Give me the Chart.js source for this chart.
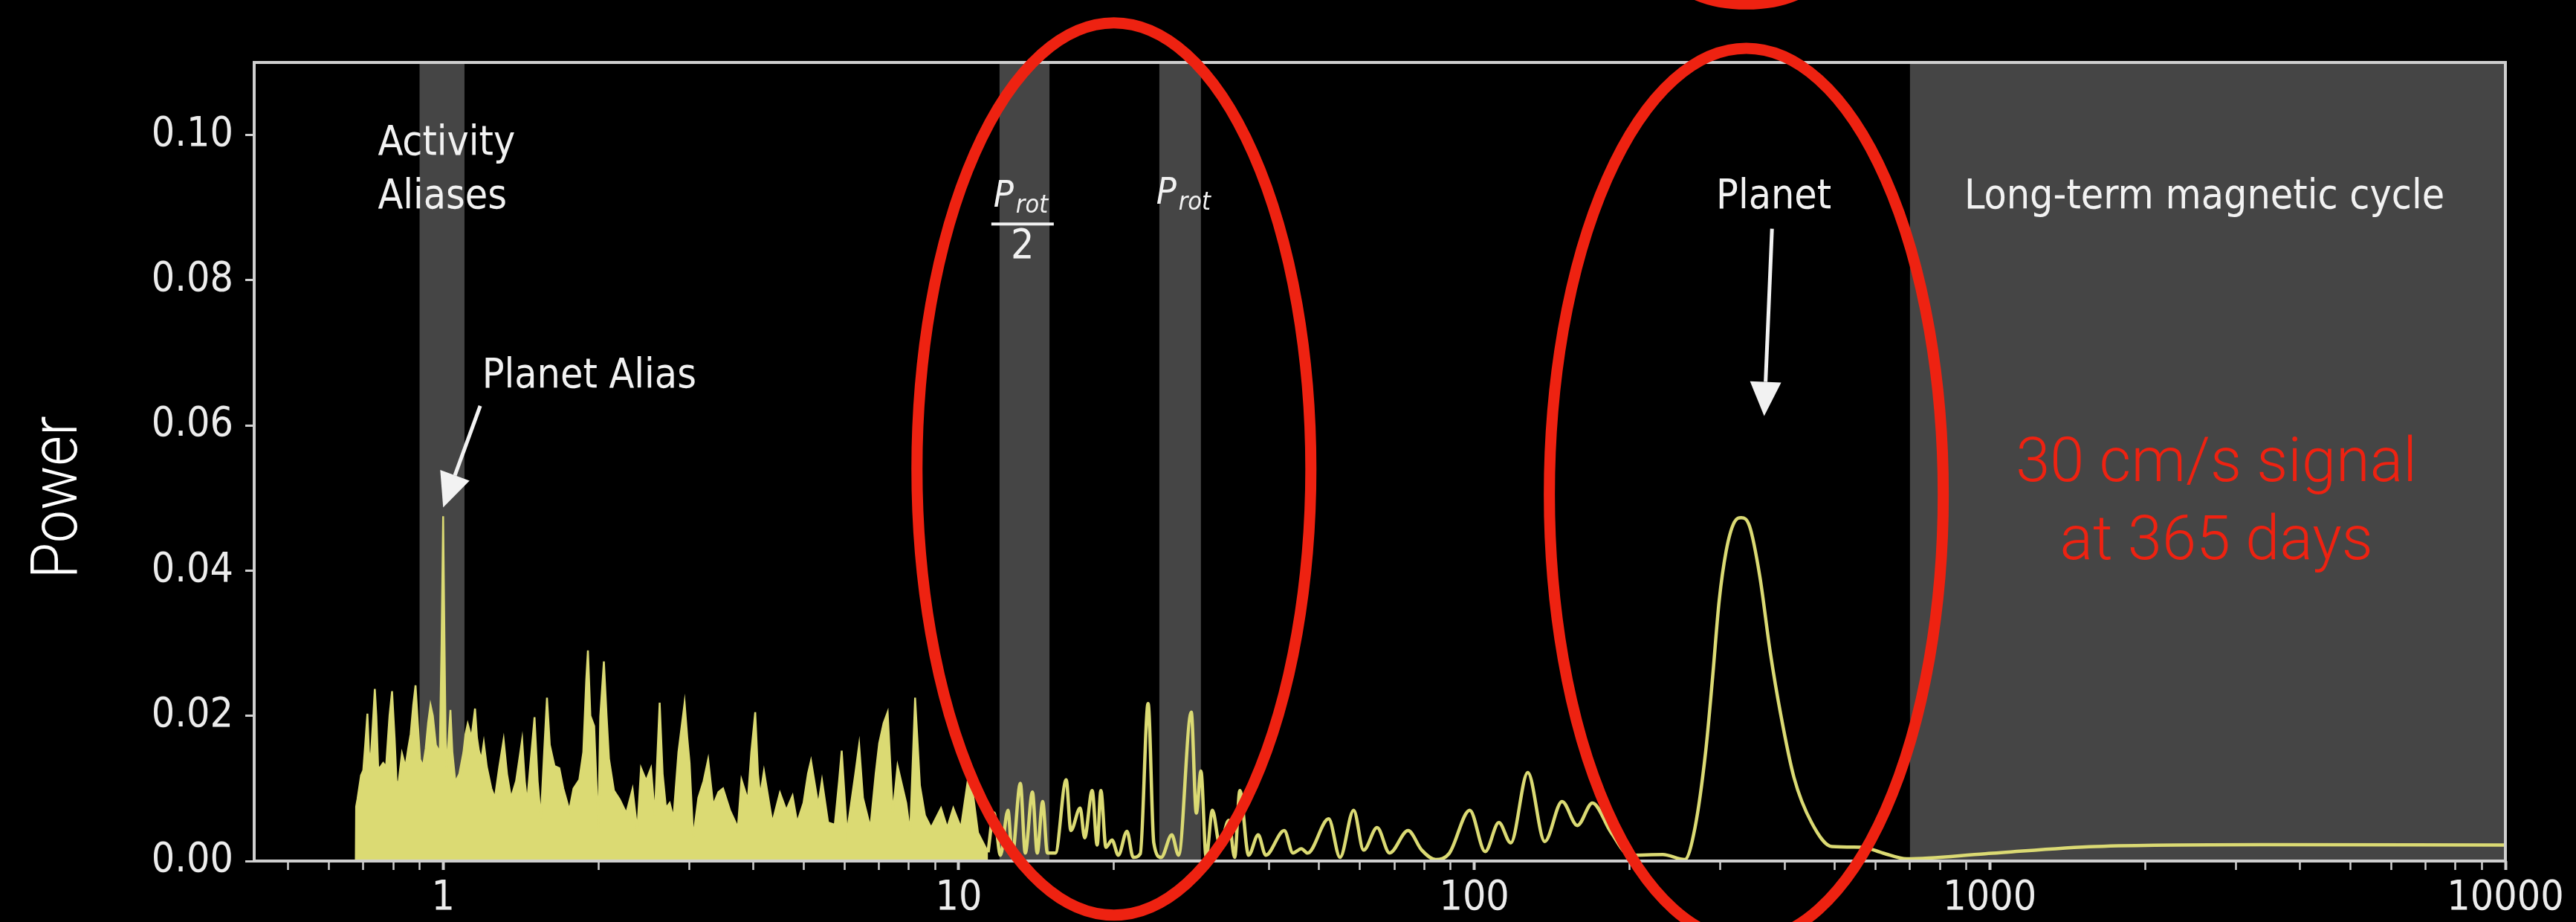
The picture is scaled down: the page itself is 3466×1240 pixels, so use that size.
<!DOCTYPE html>
<html>
<head>
<meta charset="utf-8">
<title>Periodogram</title>
<script src="https://cdn.jsdelivr.net/npm/chart.js@4.4.1/dist/chart.umd.min.js"></script>
<style>
  html, body { margin: 0; padding: 0; background: #000; }
  canvas { display: block; }
</style>
</head>
<body>
<canvas id="periodogram" width="3466" height="1240"></canvas>
<script>
// Short-period forest of peaks (drawn filled, it is too dense to resolve)
const densePeriod = [
  0.677, 0.678, 0.682, 0.693, 0.700, 0.706, 0.713, 0.718, 0.723, 0.730,
  0.737, 0.742, 0.748, 0.753, 0.765, 0.775, 0.787, 0.796, 0.805, 0.812,
  0.819, 0.832, 0.845, 0.856, 0.865, 0.875, 0.884, 0.893, 0.902, 0.914,
  0.925, 0.935, 0.945, 0.955, 0.968, 0.985, 0.993, 1.000, 1.006, 1.011,
  1.016, 1.025, 1.033, 1.042, 1.056, 1.075, 1.095, 1.105, 1.116, 1.135,
  1.153, 1.163, 1.173, 1.186, 1.199, 1.215, 1.240, 1.260, 1.285, 1.310,
  1.330, 1.354, 1.385, 1.423, 1.440, 1.455, 1.475, 1.504, 1.525, 1.547,
  1.570, 1.590, 1.610, 1.644, 1.680, 1.710, 1.757, 1.790, 1.837, 1.870,
  1.895, 1.909, 1.930, 1.963, 1.985, 2.000, 2.017, 2.050, 2.075, 2.097,
  2.144, 2.200, 2.266, 2.330, 2.380, 2.420, 2.476, 2.530, 2.574, 2.630,
  2.665, 2.705, 2.750, 2.797, 2.860, 2.940, 2.975, 3.006, 3.055, 3.126,
  3.200, 3.266, 3.340, 3.420, 3.490, 3.600, 3.730, 3.790, 3.900, 3.960,
  4.030, 4.080, 4.120, 4.190, 4.350, 4.500, 4.630, 4.760, 4.860, 5.000,
  5.100, 5.170, 5.340, 5.430, 5.580, 5.750, 5.860, 5.930, 6.070, 6.300,
  6.410, 6.520, 6.740, 6.900, 7.010, 7.150, 7.280, 7.450, 7.610, 7.910,
  8.050, 8.230, 8.410, 8.600, 8.840, 9.240, 9.500, 9.760, 10.10, 10.50,
  10.90, 11.40
];
const densePower = [
  0.0000, 0.0075, 0.0085, 0.0118, 0.0125, 0.0160, 0.0203, 0.0150, 0.0135, 0.0185,
  0.0237, 0.0200, 0.0130, 0.0128, 0.0135, 0.0130, 0.0200, 0.0234, 0.0170, 0.0110,
  0.0107, 0.0148, 0.0130, 0.0156, 0.0175, 0.0215, 0.0242, 0.0190, 0.0140, 0.0131,
  0.0155, 0.0190, 0.0215, 0.0200, 0.0160, 0.0150, 0.0300, 0.0475, 0.0300, 0.0170,
  0.0128, 0.0170, 0.0208, 0.0150, 0.0109, 0.0120, 0.0150, 0.0175, 0.0189, 0.0170,
  0.0210, 0.0170, 0.0152, 0.0140, 0.0163, 0.0130, 0.0100, 0.0087, 0.0130, 0.0167,
  0.0120, 0.0087, 0.0110, 0.0167, 0.0110, 0.0080, 0.0130, 0.0198, 0.0110, 0.0059,
  0.0150, 0.0225, 0.0160, 0.0131, 0.0128, 0.0100, 0.0070, 0.0100, 0.0112, 0.0150,
  0.0250, 0.0290, 0.0200, 0.0186, 0.0100, 0.0046, 0.0199, 0.0275, 0.0200, 0.0141,
  0.0097, 0.0085, 0.0066, 0.0099, 0.0042, 0.0128, 0.0111, 0.0128, 0.0063, 0.0218,
  0.0120, 0.0073, 0.0080, 0.0059, 0.0150, 0.0218, 0.0170, 0.0135, 0.0032, 0.0087,
  0.0110, 0.0140, 0.0077, 0.0095, 0.0100, 0.0070, 0.0046, 0.0112, 0.0084, 0.0150,
  0.0205, 0.0120, 0.0090, 0.0124, 0.0053, 0.0094, 0.0070, 0.0090, 0.0053, 0.0080,
  0.0120, 0.0138, 0.0077, 0.0111, 0.0053, 0.0050, 0.0110, 0.0152, 0.0039, 0.0120,
  0.0160, 0.0087, 0.0046, 0.0120, 0.0162, 0.0190, 0.0205, 0.0066, 0.0131, 0.0080,
  0.0039, 0.0225, 0.0104, 0.0063, 0.0046, 0.0073, 0.0046, 0.0073, 0.0046, 0.0128,
  0.0039, 0.0012
];

// Longer periods: resolved peaks, the planet and the flat long-term tail
const sparsePeriod = [
  11.40, 11.70, 12.05, 12.46, 12.70, 13.17, 13.46, 13.90, 14.20, 14.55,
  14.86, 15.40, 16.16, 16.50, 17.20, 17.55, 18.15, 18.56, 18.87, 19.30,
  19.83, 20.40, 21.20, 21.80, 22.50, 23.30, 23.90, 24.70, 25.90, 26.70,
  28.25, 28.90, 29.50, 30.20, 31.05, 32.10, 33.40, 34.30, 35.10, 36.50,
  38.10, 39.40, 42.80, 44.50, 46.20, 47.50, 52.20, 54.90, 58.35, 61.00,
  64.80, 68.50, 74.40, 79.10, 84.20, 89.50, 98.00, 105.0, 111.6, 117.7,
  127.0, 137.0, 148.0, 158.5, 169.5, 184.0, 200.5, 232.0, 256.0, 268.0,
  281.0, 290.0, 298.5, 308.0, 319.6, 329.5, 342.0, 358.0, 375.0, 393.0,
  417.0, 451.0, 494.0, 566.0, 620.0, 690.0, 980.0, 1605, 3373, 10000
];
const sparsePower = [
  0.0012, 0.0066, 0.0008, 0.0070, 0.0008, 0.0107, 0.0011, 0.0095, 0.0011, 0.0082,
  0.0011, 0.0011, 0.0112, 0.0042, 0.0073, 0.0032, 0.0097, 0.0022, 0.0097, 0.0019,
  0.0029, 0.0008, 0.0041, 0.0005, 0.0010, 0.0217, 0.0025, 0.0005, 0.0036, 0.0008,
  0.0205, 0.0066, 0.0124, 0.0005, 0.0070, 0.0022, 0.0056, 0.0005, 0.0097, 0.0008,
  0.0036, 0.0008, 0.0042, 0.0011, 0.0017, 0.0011, 0.0058, 0.0005, 0.0070, 0.0015,
  0.0046, 0.0011, 0.0042, 0.0015, 0.0002, 0.0011, 0.0070, 0.0013, 0.0053, 0.0025,
  0.0122, 0.0027, 0.0082, 0.0049, 0.0080, 0.0040, 0.0008, 0.0009, 0.0002, 0.0046,
  0.0150, 0.0254, 0.0358, 0.0427, 0.0467, 0.0473, 0.0461, 0.0392, 0.0288, 0.0202,
  0.0115, 0.0053, 0.0020, 0.0019, 0.0011, 0.0003, 0.0010, 0.0020, 0.00225, 0.0022
];

const periodTicks = [1, 10, 100, 1000, 10000];
const powerTicks = [0, 0.02, 0.04, 0.06, 0.08, 0.10];

// Shaded period ranges: activity aliases, Prot/2, Prot, magnetic cycle
const bandStart = [0.9, 12, 24.5, 700];
const bandEnd = [1.1, 15, 29.5, 10000];

const xMin = 0.43;
const xMax = 10000;
const yMax = 0.11;

const YELLOW = '#dbda73';
const GREY_BAND = '#454545';
const AXIS = '#cfcfcf';
const INK = '#f2f2f2';
const RED = '#ee2211';

// annotations are anchored in data coordinates (period, power)
const notes = [
  { text: 'Activity', period: 0.747, power: 0.0973, align: 'left' },
  { text: 'Aliases', period: 0.747, power: 0.0899, align: 'left' },
  { text: 'Planet Alias', period: 1.19, power: 0.0652, align: 'left' },
  { text: 'Planet', period: 381, power: 0.0899, align: 'center' },
  { text: 'Long-term magnetic cycle', period: 892, power: 0.0899, align: 'left' }
];
const arrows = [
  { from: [1.18, 0.0627], to: [1.0, 0.0487] },
  { from: [378, 0.0871], to: [365, 0.0613] }
];
const rotLabels = [
  { period: 13.3, power: 0.0901, half: true },
  { period: 27.5, power: 0.0905, half: false }
];
const rings = [
  { period: 20, power: 0.054, rx: 265, ry: 600 },
  { period: 337, power: 0.0505, rx: 265, ry: 600 },
  { period: 337, power: 0.1242, rx: 110, ry: 60 }
];
const callout = [
  { text: '30 cm/s signal', period: 2750, power: 0.0523 },
  { text: 'at 365 days', period: 2750, power: 0.0416 }
];

// minor tick marks for every decade (unlabelled)
const minorTicks = [];
[0.1, 1, 10, 100, 1000].forEach(d => {
  for (let k = 2; k <= 9; k++) {
    const v = k * d;
    if (v > xMin && v < xMax) minorTicks.push(v);
  }
});

// narrow tick labels if the condensed DejaVu face is installed
function fontAvailable(family) {
  const c = document.createElement('canvas').getContext('2d');
  const probe = '0123456789.0.10';
  c.font = '60px monospace';
  const base = c.measureText(probe).width;
  c.font = '60px "' + family + '", monospace';
  return c.measureText(probe).width !== base;
}
const condensed = fontAvailable('DejaVu Sans Condensed');
const tickFont = condensed
  ? { family: '"DejaVu Sans Condensed"', size: 55 }
  : { family: '"DejaVu Sans"', size: 50 };
const noteFamily = condensed ? '"DejaVu Sans Condensed"' : '"DejaVu Sans"';
const noteSize = condensed ? 55 : 50;

function drawArrow(ctx, x0, y0, x1, y1) {
  const ang = Math.atan2(y1 - y0, x1 - x0);
  const headLen = 46, headHalf = 21;
  const bx = x1 - headLen * Math.cos(ang);
  const by = y1 - headLen * Math.sin(ang);
  ctx.beginPath();
  ctx.moveTo(x0, y0);
  ctx.lineTo(bx, by);
  ctx.stroke();
  ctx.beginPath();
  ctx.moveTo(x1, y1);
  ctx.lineTo(bx + headHalf * Math.sin(ang), by - headHalf * Math.cos(ang));
  ctx.lineTo(bx - headHalf * Math.sin(ang), by + headHalf * Math.cos(ang));
  ctx.closePath();
  ctx.fill();
}

const overlays = {
  id: 'overlays',
  beforeDatasetsDraw(chart) {
    const { ctx, chartArea: a, scales: { x } } = chart;
    ctx.save();
    ctx.fillStyle = GREY_BAND;
    bandStart.forEach((s, i) => {
      const x0 = x.getPixelForValue(s);
      const x1 = x.getPixelForValue(bandEnd[i]);
      ctx.fillRect(x0, a.top, x1 - x0, a.bottom - a.top);
    });
    ctx.restore();
  },
  afterDatasetsDraw(chart) {
    const { ctx, chartArea: a, scales: { x, y } } = chart;
    ctx.save();

    // frame
    ctx.strokeStyle = AXIS;
    ctx.lineWidth = 4;
    ctx.strokeRect(a.left, a.top, a.right - a.left, a.bottom - a.top);

    // labels
    ctx.fillStyle = INK;
    ctx.font = noteSize + 'px ' + noteFamily;
    ctx.textBaseline = 'alphabetic';
    notes.forEach(n => {
      ctx.textAlign = n.align;
      ctx.fillText(n.text, x.getPixelForValue(n.period), y.getPixelForValue(n.power));
    });

    // P_rot and P_rot / 2
    rotLabels.forEach(r => {
      const cx = x.getPixelForValue(r.period);
      const by = y.getPixelForValue(r.power);
      ctx.textAlign = 'left';
      ctx.font = 'italic 50px ' + noteFamily;
      ctx.fillText('P', cx - 39, by);
      ctx.font = 'italic 34px ' + noteFamily;
      ctx.fillText('rot', cx - 9, by + 8);
      if (r.half) {
        ctx.fillRect(cx - 42, by + 21, 84, 4);
        ctx.textAlign = 'center';
        ctx.font = noteSize + 'px ' + noteFamily;
        ctx.fillText('2', cx, by + 69);
      }
    });

    ctx.strokeStyle = INK;
    ctx.lineWidth = 5;
    arrows.forEach(r => {
      drawArrow(ctx,
        x.getPixelForValue(r.from[0]), y.getPixelForValue(r.from[1]),
        x.getPixelForValue(r.to[0]), y.getPixelForValue(r.to[1]));
    });
    ctx.restore();
  },
  afterDraw(chart) {
    const { ctx, scales: { x, y } } = chart;
    ctx.save();

    // axis title
    ctx.translate(103, y.getPixelForValue(0.0501));
    ctx.rotate(-Math.PI / 2);
    ctx.font = '300 88px Roboto';
    ctx.fillStyle = '#ffffff';
    ctx.textAlign = 'center';
    ctx.textBaseline = 'alphabetic';
    const w = ctx.measureText('Power').width;
    ctx.scale(219 / w, 1);
    ctx.fillText('Power', 0, 0);
    ctx.setTransform(1, 0, 0, 1, 0, 0);

    // red highlight rings
    ctx.strokeStyle = RED;
    ctx.lineWidth = 15;
    rings.forEach(r => {
      ctx.beginPath();
      ctx.ellipse(x.getPixelForValue(r.period), y.getPixelForValue(r.power), r.rx, r.ry, 0, 0, Math.PI * 2);
      ctx.stroke();
    });

    ctx.fillStyle = RED;
    ctx.font = '300 83px Roboto';
    ctx.textAlign = 'center';
    callout.forEach(c => {
      ctx.fillText(c.text, x.getPixelForValue(c.period), y.getPixelForValue(c.power));
    });
    ctx.restore();
  }
};

const denseData = densePeriod.map((p, i) => ({ x: p, y: densePower[i] }));
const sparseData = sparsePeriod.map((p, i) => ({ x: p, y: sparsePower[i] }));

new Chart(document.getElementById('periodogram'), {
  type: 'line',
  data: {
    datasets: [
      {
        label: 'short periods',
        data: denseData,
        borderColor: YELLOW,
        backgroundColor: YELLOW,
        borderWidth: 2.5,
        fill: 'origin',
        pointRadius: 0,
        tension: 0
      },
      {
        label: 'long periods',
        data: sparseData,
        borderColor: YELLOW,
        borderWidth: 4.5,
        fill: false,
        pointRadius: 0,
        cubicInterpolationMode: 'monotone'
      }
    ]
  },
  options: {
    responsive: false,
    devicePixelRatio: 1,
    animation: false,
    events: [],
    layout: { padding: { top: 84, right: 95, bottom: 0, left: 0 } },
    plugins: {
      legend: { display: false },
      tooltip: { enabled: false }
    },
    scales: {
      x: {
        type: 'logarithmic',
        min: xMin,
        max: xMax,
        afterBuildTicks: scale => {
          scale.ticks = periodTicks.concat(minorTicks)
            .sort((a, b) => a - b)
            .map(v => ({ value: v, major: periodTicks.includes(v) }));
        },
        afterFit: scale => { scale.height = 82; },
        border: { display: false },
        grid: {
          drawOnChartArea: false,
          drawTicks: true,
          tickLength: 12,
          tickColor: AXIS,
          tickWidth: ctx => (ctx.tick && ctx.tick.major ? 4 : 2.5)
        },
        ticks: {
          autoSkip: false,
          maxRotation: 0,
          minRotation: 0,
          padding: 6,
          color: '#ececec',
          font: tickFont,
          callback: v => (periodTicks.includes(v) ? String(v) : '')
        }
      },
      y: {
        type: 'linear',
        min: 0,
        max: yMax,
        afterBuildTicks: scale => {
          scale.ticks = powerTicks.map(v => ({ value: v }));
        },
        afterFit: scale => { scale.width = 342; },
        border: { display: false },
        grid: {
          drawOnChartArea: false,
          drawTicks: true,
          tickLength: 12,
          tickColor: AXIS,
          tickWidth: 3
        },
        ticks: {
          padding: 16,
          color: '#ececec',
          font: tickFont,
          callback: v => v.toFixed(2)
        }
      }
    }
  },
  plugins: [overlays]
});
</script>
</body>
</html>
